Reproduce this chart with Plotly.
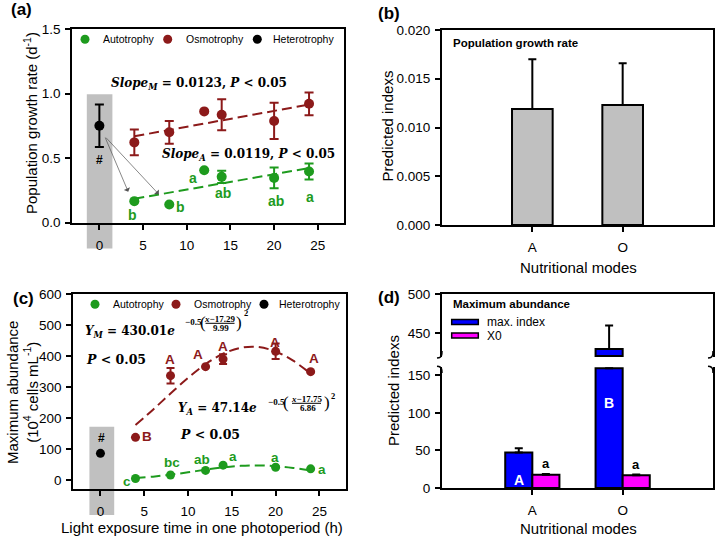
import plotly.graph_objects as go

W, H = 721, 537
def PX(x): return x / W
def PY(y): return 1 - y / H

# ---------------- data ----------------
hours = [4, 8, 12, 14, 20, 24]
auto_rate = [0.167, 0.141, 0.406, 0.355, 0.347, 0.396]
auto_rate_err = [0.0, 0.0, 0.0, 0.047, 0.08, 0.062]
osmo_rate = [0.622, 0.70, 0.862, 0.836, 0.788, 0.921]
osmo_rate_err = [0.10, 0.088, 0.0, 0.12, 0.14, 0.088]
hetero_x = [0]
hetero_rate = [0.751]
hetero_rate_err = [0.165]
fit_x = [4, 24]
osmo_rate_fit = [0.669, 0.915]
auto_rate_fit = [0.185, 0.423]

abund_auto = [5, 16, 31, 48, 41, 36]
abund_osmo = [137.6, 336.6, 365.6, 390, 415, 349.5]
abund_osmo_err = [0, 25, 0, 16, 25, 0]
hetero_abund = [86]
curve_x = [4, 6, 8, 10, 12, 14, 16, 18, 20, 22, 24]
osmo_curve = [177.5, 227.0, 279.1, 329.5, 373.8, 407.3, 426.4, 428.9, 414.5, 384.8, 343.1]
auto_curve = [6.3, 10.9, 17.2, 24.9, 33.2, 40.6, 45.6, 47.1, 44.7, 38.9, 31.1]

modes = ["A", "O"]
growth_index = [0.0119, 0.0123]
growth_index_err = [0.0051, 0.0043]

max_index = [47.14, 430.01]
max_index_err = [5.9, 30.0]
x0_index = [17.6, 16.8]
x0_index_err = [1.0, 1.2]

hour_ticks = [0, 5, 10, 15, 20, 25]
rate_ticks = [0, 0.5, 1.0, 1.5]
index_ticks = [0, 0.005, 0.010, 0.015, 0.020]
abund_ticks = [0, 100, 200, 300, 400, 500, 600]
low_ticks = [0, 50, 100, 150]
up_ticks = [450, 500]

letters_a = ["b", "b", "a", "ab", "ab", "a"]
letters_a_pos = [(3.74, 0.06), (9.3, 0.119), (10.75, 0.347), (14.1, 0.227), (20.2, 0.168), (24.1, 0.2)]
letters_c_osmo = ["B", "A", "A", "A", "A", "A"]
letters_c_osmo_pos = [(5.3, 140), (7.98, 389), (11.15, 406), (14.0, 432), (19.9, 443), (24.4, 393)]
letters_c_auto = ["c", "bc", "ab", "a", "a", "a"]
letters_c_auto_pos = [(3.02, -5), (8.18, 56), (11.6, 67), (15.1, 75), (19.9, 72), (25.25, 35)]

GREEN = "#1e9b1e"
MAROON = "#8c1a1a"
BLACK = "#000000"
SANS = "Liberation Sans, Arial, sans-serif"
SERIF = "DejaVu Serif, serif"
SERIF2 = "Liberation Serif, serif"

# panel boxes in page pixels: (left, right, top, bottom)
BOX_A = (72.3, 344, 29, 222.7)
BOX_B = (442, 713, 30, 225)
BOX_C = (73.3, 345.7, 294, 489)
BOX_L = (442, 713, 367, 488)
BOX_U = (442, 713, 294, 357.3)

def xdom(b): return [PX(b[0]), PX(b[1])]
def ydom(b): return [PY(b[3]), PY(b[2])]

fig = go.Figure()

# ---------------- panel (a) ----------------
err_common = dict(type="data", thickness=2, width=4.5)
fig.add_trace(go.Scatter(x=fit_x, y=osmo_rate_fit, mode="lines", xaxis="x", yaxis="y",
                         line=dict(color=MAROON, width=2, dash="10px,5px")))
fig.add_trace(go.Scatter(x=fit_x, y=auto_rate_fit, mode="lines", xaxis="x", yaxis="y",
                         line=dict(color=GREEN, width=2, dash="10px,5px")))
fig.add_trace(go.Scatter(x=hours, y=osmo_rate, mode="markers", xaxis="x", yaxis="y",
                         marker=dict(color=MAROON, size=10),
                         error_y=dict(array=osmo_rate_err, color=MAROON, **err_common)))
fig.add_trace(go.Scatter(x=hours, y=auto_rate, mode="markers", xaxis="x", yaxis="y",
                         marker=dict(color=GREEN, size=10),
                         error_y=dict(array=auto_rate_err, color=GREEN, **err_common)))
fig.add_trace(go.Scatter(x=hetero_x, y=hetero_rate, mode="markers", xaxis="x", yaxis="y",
                         marker=dict(color=BLACK, size=10),
                         error_y=dict(array=hetero_rate_err, color=BLACK, **err_common)))

# ---------------- panel (b) ----------------
fig.add_trace(go.Bar(x=modes, y=growth_index, xaxis="x2", yaxis="y2", width=0.45,
                     marker=dict(color="#c0c0c0", line=dict(color=BLACK, width=2)),
                     error_y=dict(type="data", array=growth_index_err, arrayminus=[0, 0],
                                  color=BLACK, thickness=2, width=4)))

# ---------------- panel (c) ----------------
fig.add_trace(go.Scatter(x=curve_x, y=osmo_curve, mode="lines", xaxis="x3", yaxis="y3",
                         line=dict(color=MAROON, width=2, dash="10px,5px", shape="spline")))
fig.add_trace(go.Scatter(x=curve_x, y=auto_curve, mode="lines", xaxis="x3", yaxis="y3",
                         line=dict(color=GREEN, width=2, dash="10px,5px", shape="spline")))
fig.add_trace(go.Scatter(x=hours, y=abund_osmo, mode="markers", xaxis="x3", yaxis="y3",
                         marker=dict(color=MAROON, size=9),
                         error_y=dict(type="data", array=abund_osmo_err, color=MAROON, thickness=2, width=4)))
fig.add_trace(go.Scatter(x=hours, y=abund_auto, mode="markers", xaxis="x3", yaxis="y3",
                         marker=dict(color=GREEN, size=9)))
fig.add_trace(go.Scatter(x=hetero_x, y=hetero_abund, mode="markers", xaxis="x3", yaxis="y3",
                         marker=dict(color=BLACK, size=9)))

# ---------------- panel (d) (broken axis) ----------------
LOW_MAX = 161
UP_MIN = 419.5
bar_line = dict(color=BLACK, width=2)
bar_err = dict(type="data", color=BLACK, thickness=2, width=4)
low_max_vals = [min(v, LOW_MAX - 1.5) for v in max_index]
low_err = [e if v < LOW_MAX else 0 for v, e in zip(max_index, max_index_err)]
fig.add_trace(go.Bar(x=modes, y=low_max_vals, xaxis="x4", yaxis="y4", marker=dict(color="#0000ff", line=bar_line),
                     error_y=dict(array=low_err, arrayminus=[0, 0], **bar_err)))
fig.add_trace(go.Bar(x=modes, y=x0_index, xaxis="x4", yaxis="y4", marker=dict(color="#ff00ff", line=bar_line),
                     error_y=dict(array=x0_index_err, arrayminus=[0, 0], **bar_err)))
up_base = UP_MIN + 1.5
up_vals = [v - up_base if v > UP_MIN else None for v in max_index]
up_err = [e if v > UP_MIN else 0 for v, e in zip(max_index, max_index_err)]
fig.add_trace(go.Bar(x=modes, y=up_vals, base=[up_base, up_base], xaxis="x5", yaxis="y5",
                     marker=dict(color="#0000ff", line=bar_line),
                     error_y=dict(array=up_err, arrayminus=[0, 0], **bar_err)))
fig.add_trace(go.Bar(x=modes, y=[None, None], xaxis="x5", yaxis="y5", marker=dict(color="#ff00ff")))

# ---------------- axes (native lines, mirrored box, outside ticks) ----------------
tickfont = dict(family=SANS, size=13.5, color=BLACK)
ax_common = dict(showline=True, linewidth=2, linecolor=BLACK, mirror=True,
                 ticks="outside", ticklen=5, tickwidth=2, tickcolor=BLACK,
                 showgrid=False, zeroline=False, tickfont=tickfont, automargin=False)

XR = [-3.1, 28]
RA = [0, 1.5]
RB = [0, 0.02]
RC = [-29, 600]
RCAT = [-1, 2]
RLOW = [0, LOW_MAX]
RUP = [UP_MIN, 500]

layout = dict(
    xaxis=dict(domain=xdom(BOX_A), range=XR, anchor="y", tickvals=hour_ticks, ticklabelstandoff=4, **ax_common),
    yaxis=dict(domain=ydom(BOX_A), range=RA, anchor="x", tickvals=rate_ticks, tickformat=".1f",
               ticklabelstandoff=2, **ax_common),
    xaxis2=dict(domain=xdom(BOX_B), range=RCAT, anchor="y2", type="category", ticklabelstandoff=4, **ax_common),
    yaxis2=dict(domain=ydom(BOX_B), range=RB, anchor="x2", tickvals=index_ticks, tickformat=".3f",
                ticklabelstandoff=2, **ax_common),
    xaxis3=dict(domain=xdom(BOX_C), range=XR, anchor="y3", tickvals=hour_ticks, ticklabelstandoff=4, **ax_common),
    yaxis3=dict(domain=ydom(BOX_C), range=RC, anchor="x3", tickvals=abund_ticks, ticklabelstandoff=2, **ax_common),
    xaxis4=dict(domain=xdom(BOX_L), range=RCAT, anchor="y4", type="category", ticklabelstandoff=4,
                **{**ax_common, "mirror": False}),
    yaxis4=dict(domain=ydom(BOX_L), range=RLOW, anchor="x4", tickvals=low_ticks, ticklabelstandoff=2, **ax_common),
    xaxis5=dict(domain=xdom(BOX_U), range=RCAT, anchor="y5", type="category", side="top",
                showline=True, linewidth=2, linecolor=BLACK, ticks="", showticklabels=False,
                showgrid=False, zeroline=False, automargin=False),
    yaxis5=dict(domain=ydom(BOX_U), range=RUP, anchor="x5", tickvals=up_ticks, ticklabelstandoff=2, **ax_common),
    xaxis6=dict(domain=[0, 1], range=[0, W], anchor="y6", visible=False, fixedrange=True),
    yaxis6=dict(domain=[0, 1], range=[H, 0], anchor="x6", visible=False, fixedrange=True),
)
fig.update_layout(**layout)

def dom(v, r):
    return (v - r[0]) / (r[1] - r[0])

# axis-break curls
brk_x, brk_y = [], []
for xb in (BOX_L[0], BOX_L[1]):
    brk_x.extend([xb, xb - 0.5, xb - 2, xb - 5, None, xb - 5, xb - 2, xb - 0.5, xb, None])
    brk_y.extend([351, 355.5, 357.3, 358, None, 366.3, 367, 368.8, 373, None])
fig.add_trace(go.Scatter(x=brk_x, y=brk_y, mode="lines", xaxis="x6", yaxis="y6", hoverinfo="skip",
                         line=dict(color=BLACK, width=1.5, shape="spline")))

# fraction bars of the Gaussian equations
frac_x, frac_y = [], []
for xc, yb in [(220, 323.3), (306.5, 403.3)]:
    frac_x.extend([xc - 14.5, xc + 14.5, None]); frac_y.extend([yb, yb, None])
fig.add_trace(go.Scatter(x=frac_x, y=frac_y, mode="lines", xaxis="x6", yaxis="y6", hoverinfo="skip",
                         line=dict(color=BLACK, width=1)))

# ---------------- decorations ----------------
shapes = []
annotations = []

shapes.append(dict(type="rect", xref="x domain", yref="y domain", layer="below",
                   x0=dom(-1.44, XR), x1=dom(1.49, XR), y0=dom(-0.2, RA), y1=dom(0.995, RA),
                   fillcolor="#c0c0c0", line=dict(width=0)))
shapes.append(dict(type="rect", xref="x3 domain", yref="y3 domain", layer="below",
                   x0=dom(-1.26, XR), x1=dom(1.57, XR), y0=dom(-113, RC), y1=dom(172, RC),
                   fillcolor="#c0c0c0", line=dict(width=0)))

def ann(text, x, y, size, color=BLACK, family=SANS, xanchor="left", yanchor="middle", **kw):
    annotations.append(dict(text=text, x=PX(x), y=PY(y), xref="paper", yref="paper", showarrow=False,
                            xanchor=xanchor, yanchor=yanchor, font=dict(family=family, size=size, color=color), **kw))

ann("Population growth rate (d<sup>-1</sup>)", 30, 123, 15, xanchor="center", textangle=-90)
ann("Predicted indexs", 387, 126.5, 15, xanchor="center", textangle=-90)
ann("Nutritional modes", 578, 267, 15, xanchor="center")
ann("Maximum abundance<br>(10<sup>4</sup> cells mL<sup>-1</sup>)", 22, 393, 15, xanchor="center", textangle=-90)
ann("Light exposure time in one photoperiod (h)", 202, 527.5, 15, xanchor="center")
ann("Nutritional modes", 578, 528.5, 15, xanchor="center")
ann("Predicted indexs", 393, 391, 15, xanchor="center", textangle=-90)

def legend(yc, xs_marker, xs_text):
    for xm, xt, col, lab in zip(xs_marker, xs_text, [GREEN, MAROON, BLACK], ["Autotrophy", "Osmotrophy", "Heterotrophy"]):
        shapes.append(dict(type="circle", xref="paper", yref="paper", xsizemode="pixel", ysizemode="pixel",
                           xanchor=PX(xm), yanchor=PY(yc), x0=-4.5, x1=4.5, y0=-4.5, y1=4.5,
                           fillcolor=col, line=dict(width=0)))
        ann(lab, xt, yc, 10.5)

legend(39.3, [85, 167.7, 257.3], [101, 184, 270.7])
legend(304.3, [95, 176, 264], [110.7, 192, 277.3])

for lab, x, y in [("(a)", 9, 9), ("(b)", 376, 13.3), ("(c)", 11, 298.3), ("(d)", 376, 297.5)]:
    ann("<b>%s</b>" % lab, x, y, 17)

ann("<b><i>Slope</i><sub><i>M</i></sub> = 0.0123, <i>P</i> &lt; 0.05</b>", 109, 84.3, 12, family=SERIF)
ann("<b><i>Slope</i><sub><i>A</i></sub> = 0.0119, <i>P</i> &lt; 0.05</b>", 160, 155, 12, family=SERIF)

for t, (x, y) in zip(letters_a, letters_a_pos):
    annotations.append(dict(text="<b>%s</b>" % t, x=x, y=y, xref="x", yref="y", showarrow=False,
                            font=dict(family=SANS, size=14, color=GREEN)))
annotations.append(dict(text="<b>#</b>", x=0, y=0.484, xref="x", yref="y", showarrow=False,
                        font=dict(family=SANS, size=12, color=BLACK)))
for hx, hy in [(3.3, 0.24), (6.8, 0.22)]:
    annotations.append(dict(text="", x=hx, y=hy, xref="x", yref="y", ax=0.6, ay=0.67, axref="x", ayref="y",
                            showarrow=True, arrowhead=1, arrowsize=1.6, arrowwidth=0.7, arrowcolor="#555555"))

ann("<b>Population growth rate</b>", 451, 42.7, 11.5)

for t, (x, y) in zip(letters_c_osmo, letters_c_osmo_pos):
    annotations.append(dict(text="<b>%s</b>" % t, x=x, y=y, xref="x3", yref="y3", showarrow=False,
                            font=dict(family=SANS, size=13.5, color=MAROON)))
for t, (x, y) in zip(letters_c_auto, letters_c_auto_pos):
    annotations.append(dict(text="<b>%s</b>" % t, x=x, y=y, xref="x3", yref="y3", showarrow=False,
                            font=dict(family=SANS, size=13.5, color=GREEN)))
annotations.append(dict(text="<b>#</b>", x=0.08, y=136, xref="x3", yref="y3", showarrow=False,
                        font=dict(family=SANS, size=12, color=BLACK)))

def eq_main(sub, amp, x0, yc):
    ann("<b><i>Y</i><sub><i>%s</i></sub> = %s<i>e</i></b>" % (sub, amp), x0, yc, 12, family=SERIF)

def eq_exp(xs, ys, num, den):
    ann("<b>\u22120.5</b>", xs[0], ys[0], 9, family=SERIF2)
    ann("(", xs[1], ys[0] + 1, 17, family=SERIF2)
    ann("<b><i>x</i>\u2212%s</b>" % num, xs[2], ys[1], 9, family=SERIF2, xanchor="center")
    ann("<b>%s</b>" % den, xs[2] + 1, ys[3], 9, family=SERIF2, xanchor="center")
    ann(")", xs[3], ys[0] + 1, 17, family=SERIF2)
    ann("<b>2</b>", xs[4], ys[4], 8.5, family=SERIF2)

eq_main("M", "430.01", 83, 332)
eq_exp((182.5, 197.5, 220, 234, 242), (321.5, 318.5, 323.3, 327.8, 313), "17.29", "9.99")
ann("<b><i>P</i> &lt; 0.05</b>", 84, 359.3, 12.5, family=SERIF)
eq_main("A", "47.14", 176, 409)
eq_exp((266, 280.5, 306.5, 321.5, 329), (401.7, 399.3, 403.3, 407.7, 396), "17.75", "6.86")
ann("<b><i>P</i> &lt; 0.05</b>", 178, 434, 12.5, family=SERIF)

ann("<b>Maximum abundance</b>", 451, 304.3, 11.5)
shapes.append(dict(type="rect", xref="paper", yref="paper", x0=PX(451.7), x1=PX(478.3), y0=PY(324.5), y1=PY(319.5),
                   fillcolor="#0000ff", line=dict(color=BLACK, width=1.5)))
shapes.append(dict(type="rect", xref="paper", yref="paper", x0=PX(451.7), x1=PX(478.3), y0=PY(338), y1=PY(333),
                   fillcolor="#ff00ff", line=dict(color=BLACK, width=1.5)))
ann("max. index", 485, 322, 12)
ann("X0", 485, 335.5, 12)
annotations.append(dict(text="<b>A</b>", x=0, xshift=-13.5, y=11, xref="x4", yref="y4", showarrow=False,
                        font=dict(family=SANS, size=14, color="white")))
annotations.append(dict(text="<b>B</b>", x=1, xshift=-13.5, y=113, xref="x4", yref="y4", showarrow=False,
                        font=dict(family=SANS, size=14, color="white")))
for i in range(2):
    annotations.append(dict(text="<b>a</b>", x=i, xshift=13.5, y=x0_index[i] + 15, xref="x4", yref="y4",
                            showarrow=False, font=dict(family=SANS, size=13, color=BLACK)))

fig.update_layout(
    template="none",
    shapes=shapes, annotations=annotations,
    width=W, height=H, margin=dict(l=0, r=0, t=0, b=0),
    paper_bgcolor="white", plot_bgcolor="rgba(0,0,0,0)",
    showlegend=False, barmode="group", bargap=0.4, bargroupgap=0,
    font=dict(family=SANS, color=BLACK),
)
fig.write_html("out.html")
